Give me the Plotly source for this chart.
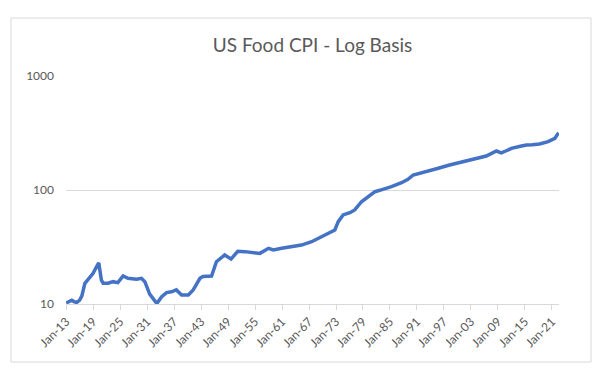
import plotly.graph_objects as go

dates = ["1913-01", "1913-10", "1914-04", "1914-10", "1915-05", "1916-01", "1916-07", "1917-03", "1918-04", "1919-01",
         "1919-10", "1920-04", "1920-11", "1921-04", "1922-05", "1923-06", "1924-07", "1925-09",
         "1926-10", "1928-09", "1929-10", "1930-07", "1931-08", "1932-10", "1933-03", "1934-04",
         "1935-05", "1936-06", "1937-07", "1938-09", "1940-03", "1941-04", "1942-10", "1943-06",
         "1945-05", "1946-06", "1948-04", "1949-09", "1950-06", "1951-03", "1952-10", "1955-01",
         "1956-02", "1958-01", "1959-02", "1960-12", "1963-03", "1965-05", "1967-08", "1969-10",
         "1971-09", "1972-10", "1973-07", "1974-08", "1976-02", "1977-03", "1978-09", "1980-03",
         "1981-09", "1983-06", "1985-05", "1987-08", "1989-01", "1990-03", "1991-09", "1993-11", "1995-10",
         "1998-04", "2002-10", "2006-06", "2008-09", "2009-10", "2011-01", "2012-01", "2014-01", "2015-05",
         "2016-09", "2018-04", "2020-03", "2021-09", "2022-07"]
food_cpi = [10.2, 10.5, 10.8, 10.5, 10.3, 10.8, 11.8, 15.2, 17.4, 18.6,
            21.2, 23.0, 16.2, 15.2, 15.2, 15.7, 15.4, 17.6,
            16.8, 16.5, 16.8, 15.7, 12.2, 10.5, 10.1, 11.6,
            12.6, 12.8, 13.3, 12.0, 12.0, 13.3, 16.8, 17.4,
            17.6, 23.5, 26.9, 24.8, 27.0, 29.0, 28.8, 27.8,
            27.8, 30.8, 29.8, 30.8, 31.8, 32.9, 35.2, 38.9,
            41.7, 44.6, 52.7, 60.4, 63.2, 66.8, 78.9, 87.3,
            96.6, 101.4, 106.9, 115.9, 124.0, 135.4, 140.0, 146.0, 155.0,
            165.7, 183.0, 198.6, 219.8, 212.0, 222.0, 232.0, 242.0, 248.0,
            249.0, 253.5, 265.5, 284.0, 318.0]

x_tick_dates = ["1913-01-01", "1919-01-01", "1925-01-01", "1931-01-01", "1937-01-01", "1943-01-01",
                "1949-01-01", "1955-01-01", "1961-01-01", "1967-01-01", "1973-01-01", "1979-01-01",
                "1985-01-01", "1991-01-01", "1997-01-01", "2003-01-01", "2009-01-01", "2015-01-01",
                "2021-01-01"]
x_tick_labels = ["Jan-13", "Jan-19", "Jan-25", "Jan-31", "Jan-37", "Jan-43", "Jan-49", "Jan-55",
                 "Jan-61", "Jan-67", "Jan-73", "Jan-79", "Jan-85", "Jan-91", "Jan-97", "Jan-03",
                 "Jan-09", "Jan-15", "Jan-21"]
y_tick_vals = [10, 100, 1000]
y_tick_labels = ["10", "100", "1000"]

L, R, T, B = 66, 41, 76, 71
W, H = 600, 375
pw, ph = W - L - R, H - T - B

fig = go.Figure(go.Scatter(x=dates, y=food_cpi, mode="lines",
                           line=dict(color="#4472C4", width=3.5), hoverinfo="skip"))

# outer chart border
bx0, bx1, by0, by1 = 11, 591, 18, 362
fig.add_shape(type="rect", xref="paper", yref="paper",
              x0=(bx0 - L) / pw, x1=(bx1 - L) / pw,
              y0=(H - B - by1) / ph, y1=(H - B - by0) / ph,
              line=dict(color="#d9d9d9", width=1), layer="below")

fig.update_layout(
    width=W, height=H,
    margin=dict(l=L, r=R, t=T, b=B),
    paper_bgcolor="white", plot_bgcolor="white",
    showlegend=False,
    font=dict(family="Lato, Open Sans, sans-serif", color="#595959", size=12),
    title=dict(text="US Food CPI - Log Basis", x=0.5, xref="paper", xanchor="center",
               y=1 - 45 / H, yanchor="middle",
               font=dict(family="Lato, Open Sans, sans-serif", size=19, color="#595959")),
    xaxis=dict(type="date", range=["1912-12-20", "2022-08-01"],
               tickmode="array", tickvals=x_tick_dates, ticktext=x_tick_labels,
               tickangle=-45, showgrid=False, showline=True, linecolor="#d9d9d9", linewidth=1,
               ticks="outside", ticklen=5, tickcolor="#d9d9d9", tickfont=dict(size=12, color="#595959"),
               zeroline=False),
    yaxis=dict(type="log", range=[1, 3], tickmode="array", tickvals=y_tick_vals, ticktext=y_tick_labels,
               showgrid=True, gridcolor="#d9d9d9", gridwidth=1, showline=False, ticks="",
               ticklabelstandoff=11, tickfont=dict(size=12, color="#595959"), zeroline=False),
)

fig.write_html("out.html", config={"displayModeBar": False},
               post_script="document.body.style.margin='0px';")
